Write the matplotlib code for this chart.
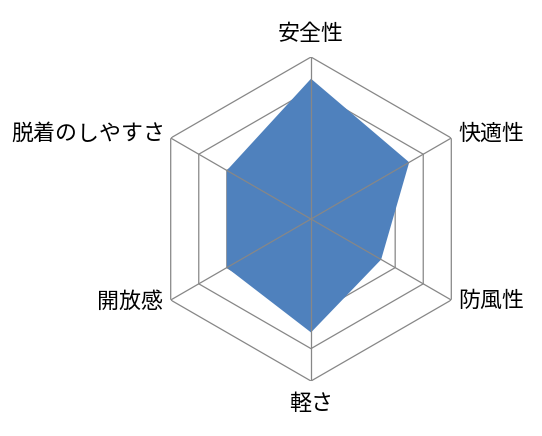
import numpy as np
import matplotlib
matplotlib.use('Agg')
import matplotlib.pyplot as plt

plt.rcParams['font.family'] = ['Noto Sans CJK JP', 'DejaVu Sans']

# 項目と値 (0-5)
categories = ['安全性', '快適性', '防風性', '軽さ', '開放感', '脱着のしやすさ']
values = [4.33, 3.5, 2.5, 3.5, 3.0, 3.0]
rings = [1, 2, 3, 4, 5]

n = len(categories)
angles = np.linspace(0, 2 * np.pi, n, endpoint=False)
closed = np.append(angles, angles[0])

fig = plt.figure(figsize=(5.42, 4.36), dpi=100)
ax = fig.add_axes([0.2749, 0.1261, 0.5978, 0.7431], projection='polar')
ax.set_theta_offset(np.pi / 2)
ax.set_theta_direction(-1)
ax.set_ylim(0, 5)
ax.grid(False)
ax.spines['polar'].set_visible(False)
ax.set_xticks([])
ax.set_yticks([])
ax.patch.set_visible(False)

grid_color = '#878787'

# 六角形の目盛り線 (塗りの下)
for r in rings:
    ax.plot(closed, [r] * (n + 1), color=grid_color, lw=0.9, zorder=1)

# 塗りつぶし
ax.fill(closed, values + values[:1], color='#4F81BD', lw=0, zorder=2)

# 放射線 (塗りの上)
for a in angles:
    ax.plot([a, a], [0, 5], color=grid_color, lw=0.9, zorder=3)

# ラベル (位置はピクセルのずれをポイントに変換)
offsets = [(0, 23, 'center'), (7, 4, 'left'), (7, -1, 'left'),
           (0, -23, 'center'), (-8, -2, 'right'), (-5, 4, 'right')]
for a, lab, (dx, dy, ha) in zip(angles, categories, offsets):
    ax.annotate(lab, xy=(a, 5), xytext=(dx * 0.72, dy * 0.72),
                textcoords='offset points', ha=ha, va='center',
                fontsize=15.8, color='black', annotation_clip=False)

fig.savefig('out.png', dpi=100)
